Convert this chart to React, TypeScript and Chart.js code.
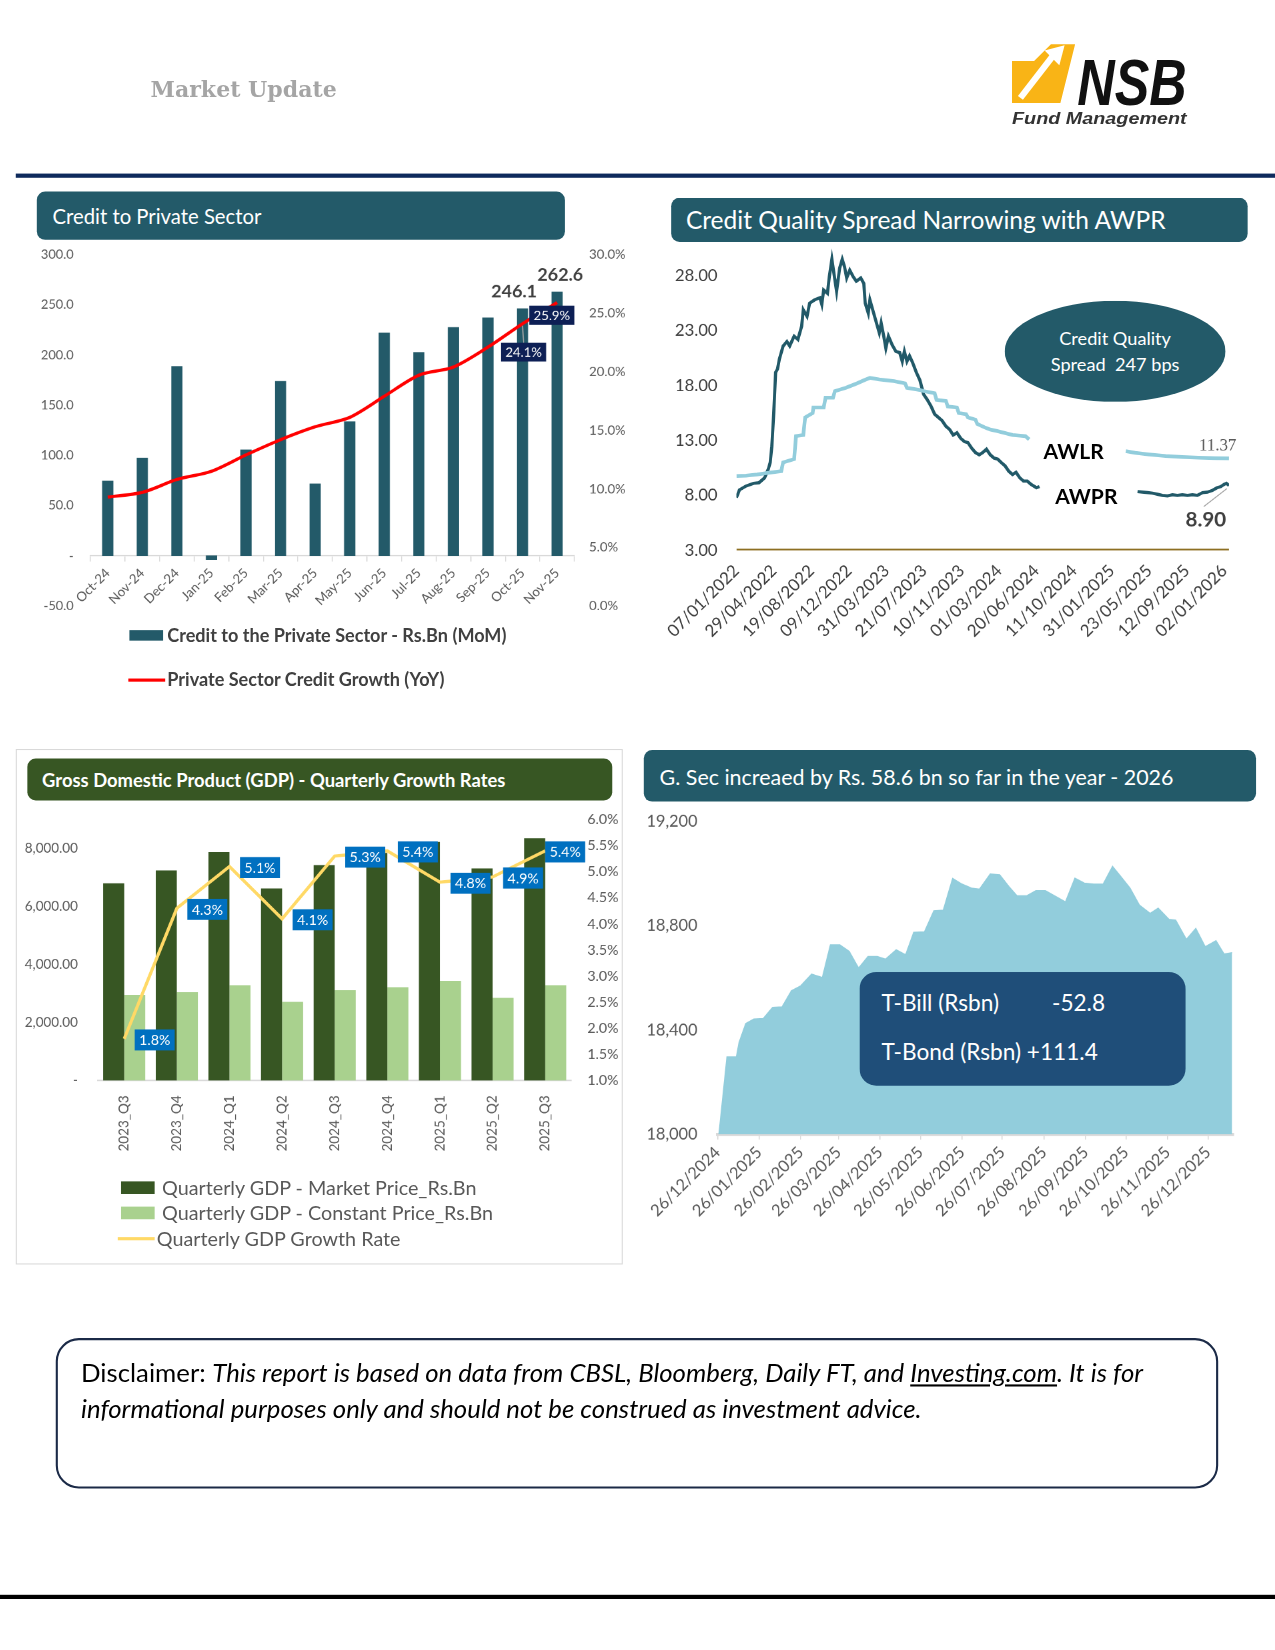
import React, { useEffect, useRef } from 'react';
import { Chart, registerables } from 'chart.js';

Chart.register(...registerables);

const FONT = 'Lato, "Open Sans", "DejaVu Sans", sans-serif';
const TEAL = '#235a69';
// layout is authored on a 1212 x 1568 grid and scaled up to the 1275 px page
const PAGE_W = 1212;
const PAGE_H = 1568;
const K = 1275 / PAGE_W;

// ---------------- Chart 1: Credit to Private Sector ----------------
const creditMonths = ['Oct-24', 'Nov-24', 'Dec-24', 'Jan-25', 'Feb-25', 'Mar-25', 'Apr-25', 'May-25', 'Jun-25', 'Jul-25', 'Aug-25', 'Sep-25', 'Oct-25', 'Nov-25'];
const creditMoM = [74.5, 97.2, 188.4, -4.0, 105.5, 173.8, 71.6, 133.5, 222.0, 202.4, 227.4, 237.0, 246.1, 262.6];
const creditYoY = [9.3, 9.7, 10.8, 11.5, 12.9, 14.2, 15.3, 16.1, 17.9, 19.7, 20.4, 22.1, 24.1, 25.9];

// ---------------- Chart 2: AWPR / AWLR ----------------
const awTickLabels = ['07/01/2022', '29/04/2022', '19/08/2022', '09/12/2022', '31/03/2023', '21/07/2023', '10/11/2023', '01/03/2024', '20/06/2024', '11/10/2024', '31/01/2025', '23/05/2025', '12/09/2025', '02/01/2026'];
const awYTicks = [3, 8, 13, 18, 23, 28];
const awprWeeks = [0, 1.3, 4.1, 7.3, 9.6, 12, 13.6, 14.4, 15.1, 15.9, 16.7, 17.5, 18.3, 19.9, 21.5, 22.7, 24.6, 26.2, 27.8, 28.5, 30.1, 31.2, 33.3, 35.6, 36.4, 37.2, 38.8, 39.6, 40.7, 42, 42.7, 44, 45.1, 46.1, 47, 48.3, 49.8, 51.1, 53, 54.3, 54.9, 56.2, 56.9, 57.7, 59.3, 60.9, 61.7, 62.8, 63.7, 64.8, 66.4, 68, 69.6, 70.7, 71.6, 72.7, 73.8, 75.1, 76.7, 78.2, 79.8, 81.4, 83, 84.5, 86.1, 87.7, 89.3, 90.9, 92.4, 94, 95.6, 97.2, 98.7, 100.3, 101.9, 103.5, 105, 106.6, 108.2, 109.8, 111.4, 112.9, 114.5, 116.1, 117.7, 119.2, 120.8, 122.4, 124, 125.6, 127.9, 129.2,
  150,
  171, 173.1, 175.3, 177.4, 179.5, 181.6, 183.8, 185.9, 188, 190.1, 192.3, 194.4, 196.5, 198.7, 200.8, 202.9, 205, 206.5, 207.9, 208.9, 210];
const awprValues = [7.8, 8.5, 8.85, 9.1, 9.15, 9.6, 10.4, 11.0, 12.5, 15.5, 19.2, 19.5, 20.4, 21.6, 22.0, 21.6, 22.5, 22.2, 23.4, 24.9, 24.3, 25.5, 25.8, 26.0, 25.4, 26.7, 26.4, 27.9, 29.5, 27.6, 26.6, 28.7, 29.5, 28.8, 27.8, 28.5, 27.9, 27.5, 27.8, 27.3, 25.5, 24.6, 25.8, 25.2, 24.0, 22.8, 23.7, 22.5, 21.4, 22.5, 21.7, 21.1, 21.0, 20.2, 21.1, 20.2, 20.7, 20.1, 19.2, 18.5, 17.2, 16.7, 16.1, 15.4, 15.1, 14.8, 14.3, 14.0, 13.5, 13.7, 13.2, 12.9, 12.8, 12.3, 11.9, 11.7, 11.9, 12.2, 11.7, 11.4, 11.3, 11.0, 10.7, 10.2, 9.9, 10.1, 9.6, 9.3, 9.3, 9.0, 8.7, 8.8,
  null,
  8.35, 8.3, 8.25, 8.2, 8.1, 8.0, 7.95, 8.05, 8.0, 8.05, 8.0, 8.05, 8.0, 8.25, 8.3, 8.45, 8.7, 8.8, 9.0, 9.1, 8.9];
const awlrWeeks = [0, 4.1, 8.8, 13.6, 19.1, 19.9, 24.6, 25.4, 28.5, 29.3, 32.5, 32.8, 37.2, 38, 41.2, 42, 46.7, 51.4, 54.6, 56.9, 60.9, 67.2, 71.9, 72.7, 78.2, 79.8, 84.5, 85.3, 89.3, 90.1, 94, 94.8, 97.9, 98.7, 101.9, 102.7, 105.8, 108.2, 111.4, 117.7, 123.2, 124.8,
  146,
  166, 170, 176, 183, 190, 197, 204, 210];
const awlrValues = [9.76, 9.8, 9.9, 10.05, 10.2, 11.0, 11.3, 13.4, 13.5, 15.1, 15.5, 16.0, 16.0, 16.9, 16.9, 17.5, 17.8, 18.2, 18.5, 18.7, 18.55, 18.4, 18.2, 17.8, 17.6, 17.5, 17.3, 16.7, 16.6, 16.1, 16.0, 15.5, 15.4, 15.1, 14.9, 14.5, 14.2, 14.0, 13.85, 13.5, 13.4, 13.1,
  null,
  12.03, 11.88, 11.73, 11.58, 11.49, 11.43, 11.39, 11.37];
const floorWeeks = [0, 210];
const floorValues = [3, 3];
const spreadBps = 247;

// ---------------- Chart 3: GDP ----------------
const gdpQuarters = ['2023_Q3', '2023_Q4', '2024_Q1', '2024_Q2', '2024_Q3', '2024_Q4', '2025_Q1', '2025_Q2', '2025_Q3'];
const gdpMarket = [6800, 7245, 7875, 6625, 7430, 7850, 8230, 7315, 8355];
const gdpConstant = [2955, 3050, 3290, 2715, 3115, 3220, 3440, 2855, 3290];
const gdpGrowth = [1.8, 4.3, 5.1, 4.1, 5.3, 5.4, 4.8, 4.9, 5.4];
const gdpLeftTicks = [0, 2000, 4000, 6000, 8000];

// ---------------- Chart 4: G. Sec ----------------
const gsecTickLabels = ['26/12/2024', '26/01/2025', '26/02/2025', '26/03/2025', '26/04/2025', '26/05/2025', '26/06/2025', '26/07/2025', '26/08/2025', '26/09/2025', '26/10/2025', '26/11/2025', '26/12/2025'];
const gsecDays = [1, 7, 14, 16, 21, 27, 34, 41, 48, 55, 62, 70, 78, 84, 91, 98, 105, 112, 119, 125, 133, 140, 146, 154, 161, 168, 175, 182, 189, 195, 203, 210, 217, 223, 230, 237, 244, 251, 259, 266, 273, 280, 287, 294, 300, 307, 314, 322, 328, 336, 341, 349, 356, 363, 371, 377, 383];
const gsecValues = [18000, 18297, 18297, 18352, 18425, 18442, 18444, 18487, 18489, 18551, 18570, 18615, 18602, 18727, 18727, 18702, 18638, 18682, 18682, 18672, 18708, 18689, 18775, 18777, 18858, 18860, 18982, 18960, 18945, 18941, 18999, 18996, 18950, 18915, 18915, 18935, 18935, 18915, 18892, 18983, 18964, 18960, 18960, 19028, 18990, 18945, 18880, 18848, 18868, 18825, 18822, 18748, 18790, 18720, 18743, 18692, 18697];
const gsecYtd = 58.6;
const tBillChange = -52.8;
const tBondChange = 111.4;

// ---------------- helpers ----------------
const parseDMY = (s: string) => {
  const [d, m, y] = s.split('/').map(Number);
  return Date.UTC(y, m - 1, d);
};
const DAY = 86400000;
const toXY = (xs: number[], ys: (number | null)[]) => xs.map((x, i) => ({ x, y: ys[i] }));
const fnt = (size: number, weight: string = 'normal', family: string = FONT) => ({ size, weight, family });
const fixV = (w: number) => (s: any) => { s.width = w; s.paddingTop = 0; s.paddingBottom = 0; };
const fixH = (h: number) => (s: any) => { s.height = h; s.paddingLeft = 0; s.paddingRight = 0; };

function ChartBox({ make, left, top, width, height }: any) {
  const ref = useRef<HTMLCanvasElement>(null);
  useEffect(() => {
    const chart = new Chart(ref.current as HTMLCanvasElement, make());
    return () => chart.destroy();
  }, []);
  return (
    <div style={{ position: 'absolute', left, top, width, height }}>
      <canvas ref={ref} width={width} height={height} style={{ display: 'block', width, height }} />
    </div>
  );
}

const baseOpts = (padding: any) => ({
  responsive: false,
  animation: false,
  devicePixelRatio: K * 1.5,
  layout: { padding },
  plugins: { legend: { display: false }, tooltip: { enabled: false } },
});

// ---------------- configs ----------------
const creditLabelsPlugin = {
  id: 'creditLabels',
  afterDatasetsDraw(chart: any) {
    const ctx = chart.ctx;
    const bars = chart.getDatasetMeta(0).data;
    const pts = chart.getDatasetMeta(1).data;
    const n = creditMoM.length;
    ctx.save();
    ctx.font = `bold 17px ${FONT}`;
    ctx.fillStyle = '#404040';
    ctx.textAlign = 'center';
    ctx.textBaseline = 'bottom';
    const b1 = bars[n - 2];
    const b2 = bars[n - 1];
    ctx.fillText(creditMoM[n - 2].toFixed(1), b1.x - 8, b1.y - 8);
    ctx.fillText(creditMoM[n - 1].toFixed(1), b2.x + 3, b2.y - 8);
    const box = (text: string, cx: number, cy: number) => {
      ctx.font = `12.5px ${FONT}`;
      const w = 43, h = 18;
      ctx.fillStyle = '#0d1f55';
      ctx.fillRect(cx - w / 2, cy - h / 2, w, h);
      ctx.fillStyle = '#ffffff';
      ctx.textAlign = 'center';
      ctx.textBaseline = 'middle';
      ctx.fillText(text, cx, cy + 0.5);
    };
    const p1 = pts[n - 2];
    const p2 = pts[n - 1];
    ctx.strokeStyle = '#a6a6a6';
    ctx.lineWidth = 1;
    ctx.beginPath();
    ctx.moveTo(p1.x, p1.y + 2);
    ctx.lineTo(p1.x + 1, p1.y + 18);
    ctx.stroke();
    box(creditYoY[n - 2].toFixed(1) + '%', p1.x + 1, p1.y + 27);
    box(creditYoY[n - 1].toFixed(1) + '%', p2.x - 5, p2.y + 12);
    ctx.restore();
  },
};

const makeCredit = () => ({
  type: 'bar',
  data: {
    labels: creditMonths,
    datasets: [
      { type: 'bar', data: creditMoM, backgroundColor: TEAL, barThickness: 10, yAxisID: 'y', order: 2 },
      { type: 'line', data: creditYoY, borderColor: '#ff0000', borderWidth: 3, pointRadius: 0, tension: 0.3, yAxisID: 'y1', order: 1 },
    ],
  },
  options: {
    ...baseOpts({ top: 10, bottom: 16, left: 0, right: 0 }),
    scales: {
      x: {
        position: { y: 0 },
        grid: { display: true, drawOnChartArea: false, drawTicks: true, tickLength: 5, color: '#d9d9d9', offset: true },
        border: { display: true, color: '#d9d9d9', width: 1.5 },
        ticks: { minRotation: 45, maxRotation: 45, autoSkip: false, font: fnt(12.5), color: '#595959', padding: 4 },
        afterFit: (s: any) => { s.paddingLeft = 0; s.paddingRight = 0; },
      },
      y: {
        position: 'left', min: -50, max: 300,
        ticks: { stepSize: 50, font: fnt(12.2), color: '#595959', padding: 16, callback: (v: number) => (v === 0 ? '-' : v.toFixed(1)) },
        grid: { display: false, drawTicks: false },
        border: { display: false },
        afterFit: fixV(66),
      },
      y1: {
        position: 'right', min: 0, max: 30,
        ticks: { stepSize: 5, font: fnt(12.5), color: '#595959', padding: 14, callback: (v: number) => v.toFixed(1) + '%' },
        grid: { display: false, drawTicks: false },
        border: { display: false },
        afterFit: fixV(64),
      },
    },
  },
  plugins: [creditLabelsPlugin],
});

const awLabelsPlugin = {
  id: 'awLabels',
  afterDatasetsDraw(chart: any) {
    const ctx = chart.ctx;
    const lrPts = chart.getDatasetMeta(0).data;
    const prPts = chart.getDatasetMeta(1).data;
    const lr = lrPts[lrPts.length - 1];
    const pr = prPts[prPts.length - 1];
    const lrVal = awlrValues[awlrValues.length - 1] as number;
    const prVal = awprValues[awprValues.length - 1] as number;
    ctx.save();
    ctx.font = '16px "Liberation Serif", "DejaVu Serif", serif';
    ctx.fillStyle = '#595959';
    ctx.textAlign = 'right';
    ctx.textBaseline = 'middle';
    ctx.fillText(lrVal.toFixed(2), lr.x + 7, lr.y - 12);
    ctx.strokeStyle = '#a6a6a6';
    ctx.lineWidth = 1;
    ctx.beginPath();
    ctx.moveTo(pr.x - 24, pr.y + 20);
    ctx.lineTo(pr.x - 2, pr.y + 3);
    ctx.stroke();
    ctx.font = `bold 19.5px ${FONT}`;
    ctx.fillStyle = '#404040';
    ctx.textAlign = 'center';
    ctx.fillText(prVal.toFixed(2), pr.x - 22, pr.y + 33);
    ctx.restore();
  },
};

const makeAw = () => {
  const t0 = parseDMY(awTickLabels[0]);
  const tickWeeks = awTickLabels.map((s) => (parseDMY(s) - t0) / (7 * DAY));
  const lastWeek = Math.max(...awprWeeks, ...awlrWeeks);
  return {
    type: 'line',
    data: {
      datasets: [
        { data: toXY(awlrWeeks, awlrValues), borderColor: '#92cddc', borderWidth: 3.5, pointRadius: 0, spanGaps: false },
        { data: toXY(awprWeeks, awprValues), borderColor: '#215968', borderWidth: 3, pointRadius: 0, spanGaps: false },
        { data: toXY(floorWeeks, floorValues), borderColor: '#8c6d1f', borderWidth: 3, pointRadius: 0 },
      ],
    },
    options: {
      ...baseOpts({ top: 10, bottom: 0, left: 0, right: 32 }),
      scales: {
        x: {
          type: 'linear', min: 0, max: lastWeek,
          afterBuildTicks: (s: any) => { s.ticks = tickWeeks.map((v) => ({ value: v })); },
          ticks: { autoSkip: false, minRotation: 45, maxRotation: 45, font: fnt(16), color: '#3f3f3f', padding: 10, callback: (_v: number, i: number) => awTickLabels[i] },
          grid: { display: false, drawTicks: false },
          border: { display: false },
          afterFit: fixH(103),
        },
        y: {
          min: 3, max: 30.5,
          afterBuildTicks: (s: any) => { s.ticks = awYTicks.map((v) => ({ value: v })); },
          ticks: { font: fnt(15.8), color: '#3f3f3f', padding: 18, callback: (v: number) => v.toFixed(2) },
          grid: { display: false, drawTicks: false },
          border: { display: false },
          afterFit: fixV(70),
        },
      },
    },
    plugins: [awLabelsPlugin],
  };
};

const gdpLabelsPlugin = {
  id: 'gdpLabels',
  afterDatasetsDraw(chart: any) {
    const ctx = chart.ctx;
    const pts = chart.getDatasetMeta(0).data;
    const right = chart.chartArea.right;
    ctx.save();
    ctx.font = `13.5px ${FONT}`;
    ctx.textAlign = 'center';
    ctx.textBaseline = 'middle';
    pts.forEach((p: any, i: number) => {
      const w = 38, h = 20;
      const x = Math.min(p.x + 10, right + 13 - w);
      const y = p.y + 1 - h / 2;
      ctx.fillStyle = '#0070c0';
      ctx.fillRect(x, y, w, h);
      ctx.fillStyle = '#ffffff';
      ctx.fillText(gdpGrowth[i].toFixed(1) + '%', x + w / 2, y + h / 2 + 0.5);
    });
    ctx.restore();
  },
};

const makeGdp = () => ({
  type: 'bar',
  data: {
    labels: gdpQuarters,
    datasets: [
      { type: 'line', data: gdpGrowth, borderColor: '#ffd966', borderWidth: 3, pointRadius: 0, tension: 0, yAxisID: 'y1', order: 0 },
      { type: 'bar', data: gdpMarket, backgroundColor: '#375623', categoryPercentage: 0.8, barPercentage: 1.0, yAxisID: 'y', order: 1 },
      { type: 'bar', data: gdpConstant, backgroundColor: '#a9d18e', categoryPercentage: 0.8, barPercentage: 1.0, yAxisID: 'y', order: 1 },
    ],
  },
  options: {
    ...baseOpts({ top: 9, bottom: 0, left: 0, right: 0 }),
    scales: {
      x: {
        grid: { display: false, drawTicks: false },
        border: { display: true, color: '#d9d9d9', width: 1.5 },
        ticks: { minRotation: 90, maxRotation: 90, autoSkip: false, font: fnt(12.8), color: '#595959', padding: 14 },
        afterFit: fixH(83),
      },
      y: {
        position: 'left', min: 0, max: 9000,
        afterBuildTicks: (s: any) => { s.ticks = gdpLeftTicks.map((v) => ({ value: v })); },
        ticks: { font: fnt(12.8), color: '#595959', padding: 19, callback: (v: number) => (v === 0 ? '-' : v.toLocaleString('en-US', { minimumFractionDigits: 2, maximumFractionDigits: 2 })) },
        grid: { display: false, drawTicks: false },
        border: { display: false },
        afterFit: fixV(73),
      },
      y1: {
        position: 'right', min: 1, max: 6,
        ticks: { stepSize: 0.5, font: fnt(13.5), color: '#595959', padding: 15, callback: (v: number) => v.toFixed(1) + '%' },
        grid: { display: false, drawTicks: false },
        border: { display: false },
        afterFit: fixV(47),
      },
    },
  },
  plugins: [gdpLabelsPlugin],
});

const makeGsec = () => {
  const t0 = parseDMY(gsecTickLabels[0]);
  const tickDays = gsecTickLabels.map((s) => (parseDMY(s) - t0) / DAY);
  const lastDay = Math.max(...gsecDays) + 1;
  return {
    type: 'line',
    data: {
      datasets: [
        { data: toXY(gsecDays, gsecValues), fill: 'start', backgroundColor: '#92cddc', borderColor: '#92cddc', borderWidth: 1, pointRadius: 0, tension: 0 },
      ],
    },
    options: {
      ...baseOpts({ top: 11, bottom: 0, left: 0, right: 28 }),
      scales: {
        x: {
          type: 'linear', min: 0, max: lastDay,
          afterBuildTicks: (s: any) => { s.ticks = tickDays.map((v) => ({ value: v })); },
          ticks: { autoSkip: false, minRotation: 45, maxRotation: 45, font: fnt(15.5), color: '#595959', padding: 3, callback: (_v: number, i: number) => gsecTickLabels[i] },
          grid: { display: true, drawOnChartArea: false, drawTicks: true, tickLength: 5, color: '#d9d9d9' },
          border: { display: true, color: '#d9d9d9', width: 3 },
          afterFit: fixH(82),
        },
        y: {
          min: 18000, max: 19200,
          ticks: { stepSize: 400, font: fnt(15.5), color: '#595959', padding: 19, callback: (v: number) => v.toLocaleString('en-US') },
          grid: { display: false, drawTicks: false },
          border: { display: false },
          afterFit: fixV(82),
        },
      },
    },
  };
};

// ---------------- page ----------------
const abs = (left: number, top: number, extra: React.CSSProperties = {}): React.CSSProperties => ({ position: 'absolute', left, top, ...extra });

function TitleBar({ left, top, width, height, bg, text, size, weight = 'normal', pad = 15 }: any) {
  return (
    <div style={abs(left, top, { width, height, background: bg, borderRadius: 8, color: '#fff', fontFamily: FONT, fontSize: size, fontWeight: weight, display: 'flex', alignItems: 'center', paddingLeft: pad, boxSizing: 'border-box', whiteSpace: 'nowrap' })}>
      {text}
    </div>
  );
}

export default function App() {
  return (
    <div style={{ position: 'absolute', left: 0, top: 0, width: 1275, height: 1650, overflow: 'hidden', background: '#fff' }}>
      <div style={{ position: 'absolute', left: 0, top: 0, width: PAGE_W, height: PAGE_H, transform: `scale(${K})`, transformOrigin: '0 0', fontFamily: FONT }}>
        {/* header */}
        <div style={abs(143, 70, { fontFamily: '"DejaVu Serif", serif', fontWeight: 'bold', fontSize: 21, color: '#a5a5a5', lineHeight: '30px', whiteSpace: 'nowrap' })}>Market Update</div>
        <svg style={abs(955, 36)} width={180} height={95} viewBox="0 0 180 95">
          <polygon points="7,22 28,22 44,6 67,6 53,62 7,62" fill="#f9b416" />
          <polyline points="15,57 46,17" stroke="#ffffff" strokeWidth={6} fill="none" />
          <polygon points="38,12 57,7 52,26" fill="#ffffff" />
          <text x={69} y={64} fontFamily='"Liberation Sans", Arial, sans-serif' fontWeight="bold" fontStyle="italic" fontSize={62} textLength={104} lengthAdjust="spacingAndGlyphs" fill="#111">NSB</text>
          <text x={7} y={82} fontFamily='"Liberation Sans", Arial, sans-serif' fontStyle="italic" fontWeight="bold" fontSize={16} textLength={166} lengthAdjust="spacingAndGlyphs" fill="#333">Fund Management</text>
        </svg>
        <div style={abs(15, 165, { width: PAGE_W - 15, height: 4, background: '#0e2a5c' })} />

        {/* Chart 1 */}
        <TitleBar left={35} top={182} width={502} height={46} bg={TEAL} text="Credit to Private Sector" size={19.3} />
        <ChartBox make={makeCredit} left={20} top={232} width={590} height={360} />
        <div style={abs(123, 599, { width: 32, height: 10, background: TEAL })} />
        <div style={abs(159, 593, { fontSize: 17.2, fontWeight: 'bold', color: '#404040', lineHeight: '22px', whiteSpace: 'nowrap' })}>Credit to the Private Sector - Rs.Bn (MoM)</div>
        <div style={abs(122, 645, { width: 35, height: 3, background: '#ff0000' })} />
        <div style={abs(159, 635, { fontSize: 17.2, fontWeight: 'bold', color: '#404040', lineHeight: '22px', whiteSpace: 'nowrap' })}>Private Sector Credit Growth (YoY)</div>

        {/* Chart 2 */}
        <TitleBar left={638} top={188} width={548} height={42} bg={TEAL} text="Credit Quality Spread Narrowing with AWPR" size={23.3} pad={14} />
        <ChartBox make={makeAw} left={630} top={226} width={570} height={400} />
        <div style={abs(955, 286, { width: 210, height: 96, borderRadius: '50%', background: TEAL, color: '#fff', fontSize: 17.3, display: 'flex', flexDirection: 'column', alignItems: 'center', justifyContent: 'center', lineHeight: '25px' })}>
          <div>Credit Quality</div>
          <div style={{ whiteSpace: 'pre' }}>{`Spread  ${spreadBps} bps`}</div>
        </div>
        <div style={abs(992, 415, { fontSize: 20, fontWeight: 'bold', color: '#000', lineHeight: '26px' })}>AWLR</div>
        <div style={abs(1003, 458, { fontSize: 20, fontWeight: 'bold', color: '#000', lineHeight: '26px' })}>AWPR</div>

        {/* Chart 3 */}
        <div style={abs(15, 712, { width: 577, height: 490, border: '1.5px solid #d9d9d9', boxSizing: 'border-box' })} />
        <TitleBar left={26} top={721} width={556} height={40} bg="#375623" text="Gross Domestic Product (GDP) - Quarterly Growth Rates" size={17.5} weight="bold" pad={14} />
        <ChartBox make={makeGdp} left={20} top={770} width={570} height={340} />
        <div style={abs(115, 1123, { width: 32, height: 12, background: '#375623' })} />
        <div style={abs(154, 1117, { fontSize: 18.8, color: '#595959', lineHeight: '24px', whiteSpace: 'nowrap' })}>Quarterly GDP - Market Price_Rs.Bn</div>
        <div style={abs(115, 1147, { width: 32, height: 12, background: '#a9d18e' })} />
        <div style={abs(154, 1141, { fontSize: 18.8, color: '#595959', lineHeight: '24px', whiteSpace: 'nowrap' })}>Quarterly GDP - Constant Price_Rs.Bn</div>
        <div style={abs(112, 1176, { width: 35, height: 3, background: '#ffd966' })} />
        <div style={abs(149, 1165, { fontSize: 18.8, color: '#595959', lineHeight: '24px', whiteSpace: 'nowrap' })}>Quarterly GDP Growth Rate</div>

        {/* Chart 4 */}
        <TitleBar left={612} top={713} width={582} height={49} bg={TEAL} text={`G. Sec increaed by Rs. ${gsecYtd} bn so far in the year - 2026`} size={20.4} />
        <ChartBox make={makeGsec} left={600} top={770} width={600} height={390} />
        <div style={abs(817, 924, { width: 310, height: 108, borderRadius: 16, background: '#1f4e79', color: '#fff', fontSize: 21.5 })}>
          <div style={abs(21, 16, { whiteSpace: 'nowrap', lineHeight: '26px' })}>T-Bill (Rsbn)</div>
          <div style={abs(183, 16, { whiteSpace: 'nowrap', lineHeight: '26px' })}>{tBillChange.toFixed(1)}</div>
          <div style={abs(21, 63, { whiteSpace: 'nowrap', lineHeight: '26px' })}>{`T-Bond (Rsbn) +${tBondChange.toFixed(1)}`}</div>
        </div>

        {/* Disclaimer */}
        <div style={abs(53, 1272, { width: 1105, height: 143, border: '2px solid #1b2a47', borderRadius: 22, boxSizing: 'border-box', padding: '14px 0 0 22px', fontSize: 24.5, lineHeight: '34px', color: '#000', whiteSpace: 'nowrap' })}>
          <div>
            Disclaimer: <i>This report is based on data from CBSL, Bloomberg, Daily FT, and <u>Investing.com</u>. It is for</i>
          </div>
          <div>
            <i>informational purposes only and should not be construed as investment advice.</i>
          </div>
        </div>
        <div style={abs(0, 1516, { width: PAGE_W, height: 4, background: '#000' })} />
      </div>
    </div>
  );
}
